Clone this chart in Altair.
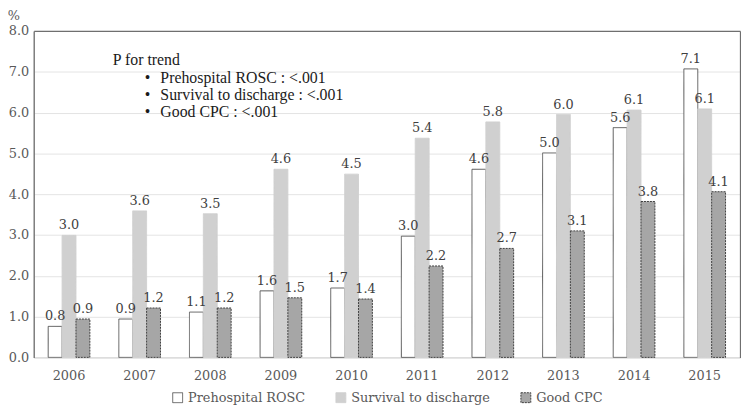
import altair as alt
import pandas as pd

years = ["2006", "2007", "2008", "2009", "2010", "2011", "2012", "2013", "2014", "2015"]
series = ["Prehospital ROSC", "Survival to discharge", "Good CPC"]
rosc = [0.76, 0.94, 1.11, 1.63, 1.70, 2.97, 4.61, 5.01, 5.63, 7.07]
survival = [2.99, 3.59, 3.52, 4.61, 4.49, 5.37, 5.77, 5.95, 6.06, 6.09]
good_cpc = [0.94, 1.21, 1.21, 1.46, 1.43, 2.24, 2.67, 3.10, 3.82, 4.06]
y_ticks = [0, 1, 2, 3, 4, 5, 6, 7, 8]

annot_title = "P for trend"
annot_lines = [
    "Prehospital ROSC : <.001",
    "Survival to discharge : <.001",
    "Good CPC : <.001",
]

rows = []
for s, vals in zip(series, [rosc, survival, good_cpc]):
    for yr, v in zip(years, vals):
        rows.append({"year": yr, "series": s, "value": v})
df = pd.DataFrame(rows)

fills = ["#ffffff", "#d0d0d0", "#a6a6a6"]
strokes = ["#595959", "#d0d0d0", "#404040"]
dashes = [[1, 0], [1, 0], [2, 1]]

FRAME = "#6f6f6f"
SERIF = "DejaVu Serif"
W, H = 714, 330

leg = alt.Legend(
    title=None, orient="none", legendX=139, legendY=364, direction="horizontal",
    symbolType="square", symbolSize=100, symbolStrokeWidth=1,
    labelFont=SERIF, labelFontSize=13, labelColor="#595959",
    columnPadding=28, labelOffset=4, padding=0,
)

xscale = alt.Scale(domain=years, paddingInner=0.41, paddingOuter=0.205)
yscale = alt.Scale(domain=[0, 8], nice=False)

base = alt.Chart(df)

bars = base.mark_bar(strokeWidth=1).encode(
    x=alt.X("year:O", scale=xscale,
            axis=alt.Axis(title=None, labelAngle=0, ticks=False, domainColor="#d9d9d9",
                          labelFont=SERIF, labelFontSize=13, labelColor="#595959",
                          labelPadding=12, grid=False)),
    xOffset=alt.XOffset("series:N", scale=alt.Scale(domain=series, paddingInner=0, paddingOuter=0)),
    y=alt.Y("value:Q", scale=yscale,
            axis=alt.Axis(title=None, values=y_ticks, format=".1f", ticks=False,
                          domainColor=FRAME, domainWidth=1.3,
                          gridColor="#e4e4e4", labelFont=SERIF, labelFontSize=13,
                          labelColor="#595959", labelPadding=5)),
    fill=alt.Fill("series:N", scale=alt.Scale(domain=series, range=fills), legend=leg),
    stroke=alt.Stroke("series:N", scale=alt.Scale(domain=series, range=strokes), legend=leg),
    strokeDash=alt.StrokeDash("series:N", scale=alt.Scale(domain=series, range=dashes), legend=leg),
)

labels = base.mark_text(baseline="bottom", dy=-3, font=SERIF, fontSize=13,
                        color="#404040").encode(
    x=alt.X("year:O", scale=xscale,
            axis=alt.Axis(orient="top", title=None, labels=False, ticks=False, grid=False,
                          domainColor=FRAME, domainWidth=1.3)),
    xOffset=alt.XOffset("series:N", scale=alt.Scale(domain=series, paddingInner=0, paddingOuter=0)),
    y=alt.Y("value:Q", scale=yscale,
            axis=alt.Axis(orient="right", title=None, labels=False, ticks=False, grid=False,
                          domainColor=FRAME, domainWidth=1.3)),
    text=alt.Text("value:Q", format=".1f"),
)

one = pd.DataFrame({"k": [0]})
layers = [bars, labels]

layers.append(
    alt.Chart(one).mark_text(text="%", font=SERIF, fontSize=13, color="#595959",
                             baseline="top", align="center").encode(
        x=alt.value(-20), y=alt.value(-21))
)
layers.append(
    alt.Chart(one).mark_text(text=annot_title, font="Liberation Serif", fontSize=16,
                             color="#1a1a1a", baseline="middle", align="left").encode(
        x=alt.value(80), y=alt.value(29))
)
for i, line in enumerate(annot_lines):
    yy = 48 + 17 * i
    layers.append(
        alt.Chart(one).mark_text(text="\u2022", font="Liberation Serif", fontSize=16,
                                 color="#1a1a1a", baseline="middle", align="center").encode(
            x=alt.value(115), y=alt.value(yy))
    )
    layers.append(
        alt.Chart(one).mark_text(text=line, font="Liberation Serif", fontSize=16,
                                 color="#1a1a1a", baseline="middle", align="left").encode(
            x=alt.value(128), y=alt.value(yy))
    )

chart = alt.layer(*layers).resolve_axis(x="independent", y="independent").properties(
    width=W, height=H,
    autosize=alt.AutoSizeParams(type="none"),
    padding={"left": 26, "top": 21, "right": 1, "bottom": 51},
).configure_view(stroke=None).configure_legend(
    labelFont=SERIF, labelFontSize=13, labelColor="#595959"
).configure(background="white")

chart.save("out.html", embed_options={"renderer": "svg", "actions": False})
